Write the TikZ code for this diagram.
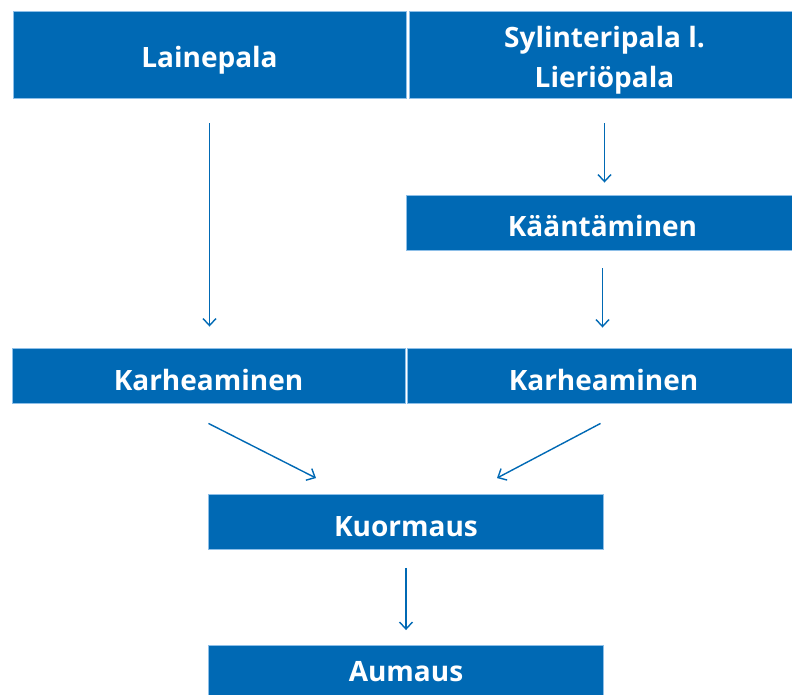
\documentclass[tikz,border=0pt]{standalone}
\usepackage{fontspec}
\setmainfont{Open Sans}
\usetikzlibrary{arrows.meta,positioning,calc}
\definecolor{acc}{HTML}{0069B4}
\definecolor{rim}{HTML}{8DBFE8}
\tikzset{
  >={Straight Barb[length=7pt,width=13pt]},
  box/.style={draw=rim,fill=acc,line width=0.9pt,inner sep=0pt,minimum width=393pt,minimum height=55pt,text height=29pt,text depth=0pt,text=white,font=\fontsize{28}{40}\selectfont\bfseries,align=center},
  arr/.style={->,draw=acc,line width=1.4pt},
}
\begin{document}
\begin{tikzpicture}[x=1pt,y=-1pt]
\clip (0,0) rectangle (792,695);
\node[box,minimum height=87pt,text height=27pt] (lp) at (209.5,54.5) {Lainepala};
\node[box,minimum width=391pt,minimum height=87pt,text height=67pt] (sp) at (604.5,54.5) {Sylinteripala l.\\Lieriöpala};
\node[box,text height=27pt] (ka) at (602.5,222.5) {Kääntäminen};
\node[box] (kl) at (208.5,375.5) {Karheaminen};
\node[box] (kr) at (603.5,375.5) {Karheaminen};
\node[box,minimum width=395pt] (ku) at (406,522) {Kuormaus};
\node[box,minimum width=395pt,text height=16pt] (au) at (406,673) {Aumaus};
% arrows
\draw[arr,shorten <=25pt,shorten >=21pt] (lp.south) -- (lp.south |- kl.north);
\draw[arr,shorten <=25pt,shorten >=12pt] (sp.south) -- (sp.south |- ka.north);
\draw[arr,shorten <=18pt,shorten >=20pt] (ka.south) -- (ka.south |- kr.north);
\draw[arr] ([yshift=-20pt]kl.south) -- ([xshift=-90pt,yshift=16pt]ku.north);
\draw[arr] ([xshift=-3pt,yshift=-20pt]kr.south) -- ([xshift=91pt,yshift=16pt]ku.north);
\draw[arr,shorten <=18pt,shorten >=15pt] (ku.south) -- (au.north);
\end{tikzpicture}
\end{document}
